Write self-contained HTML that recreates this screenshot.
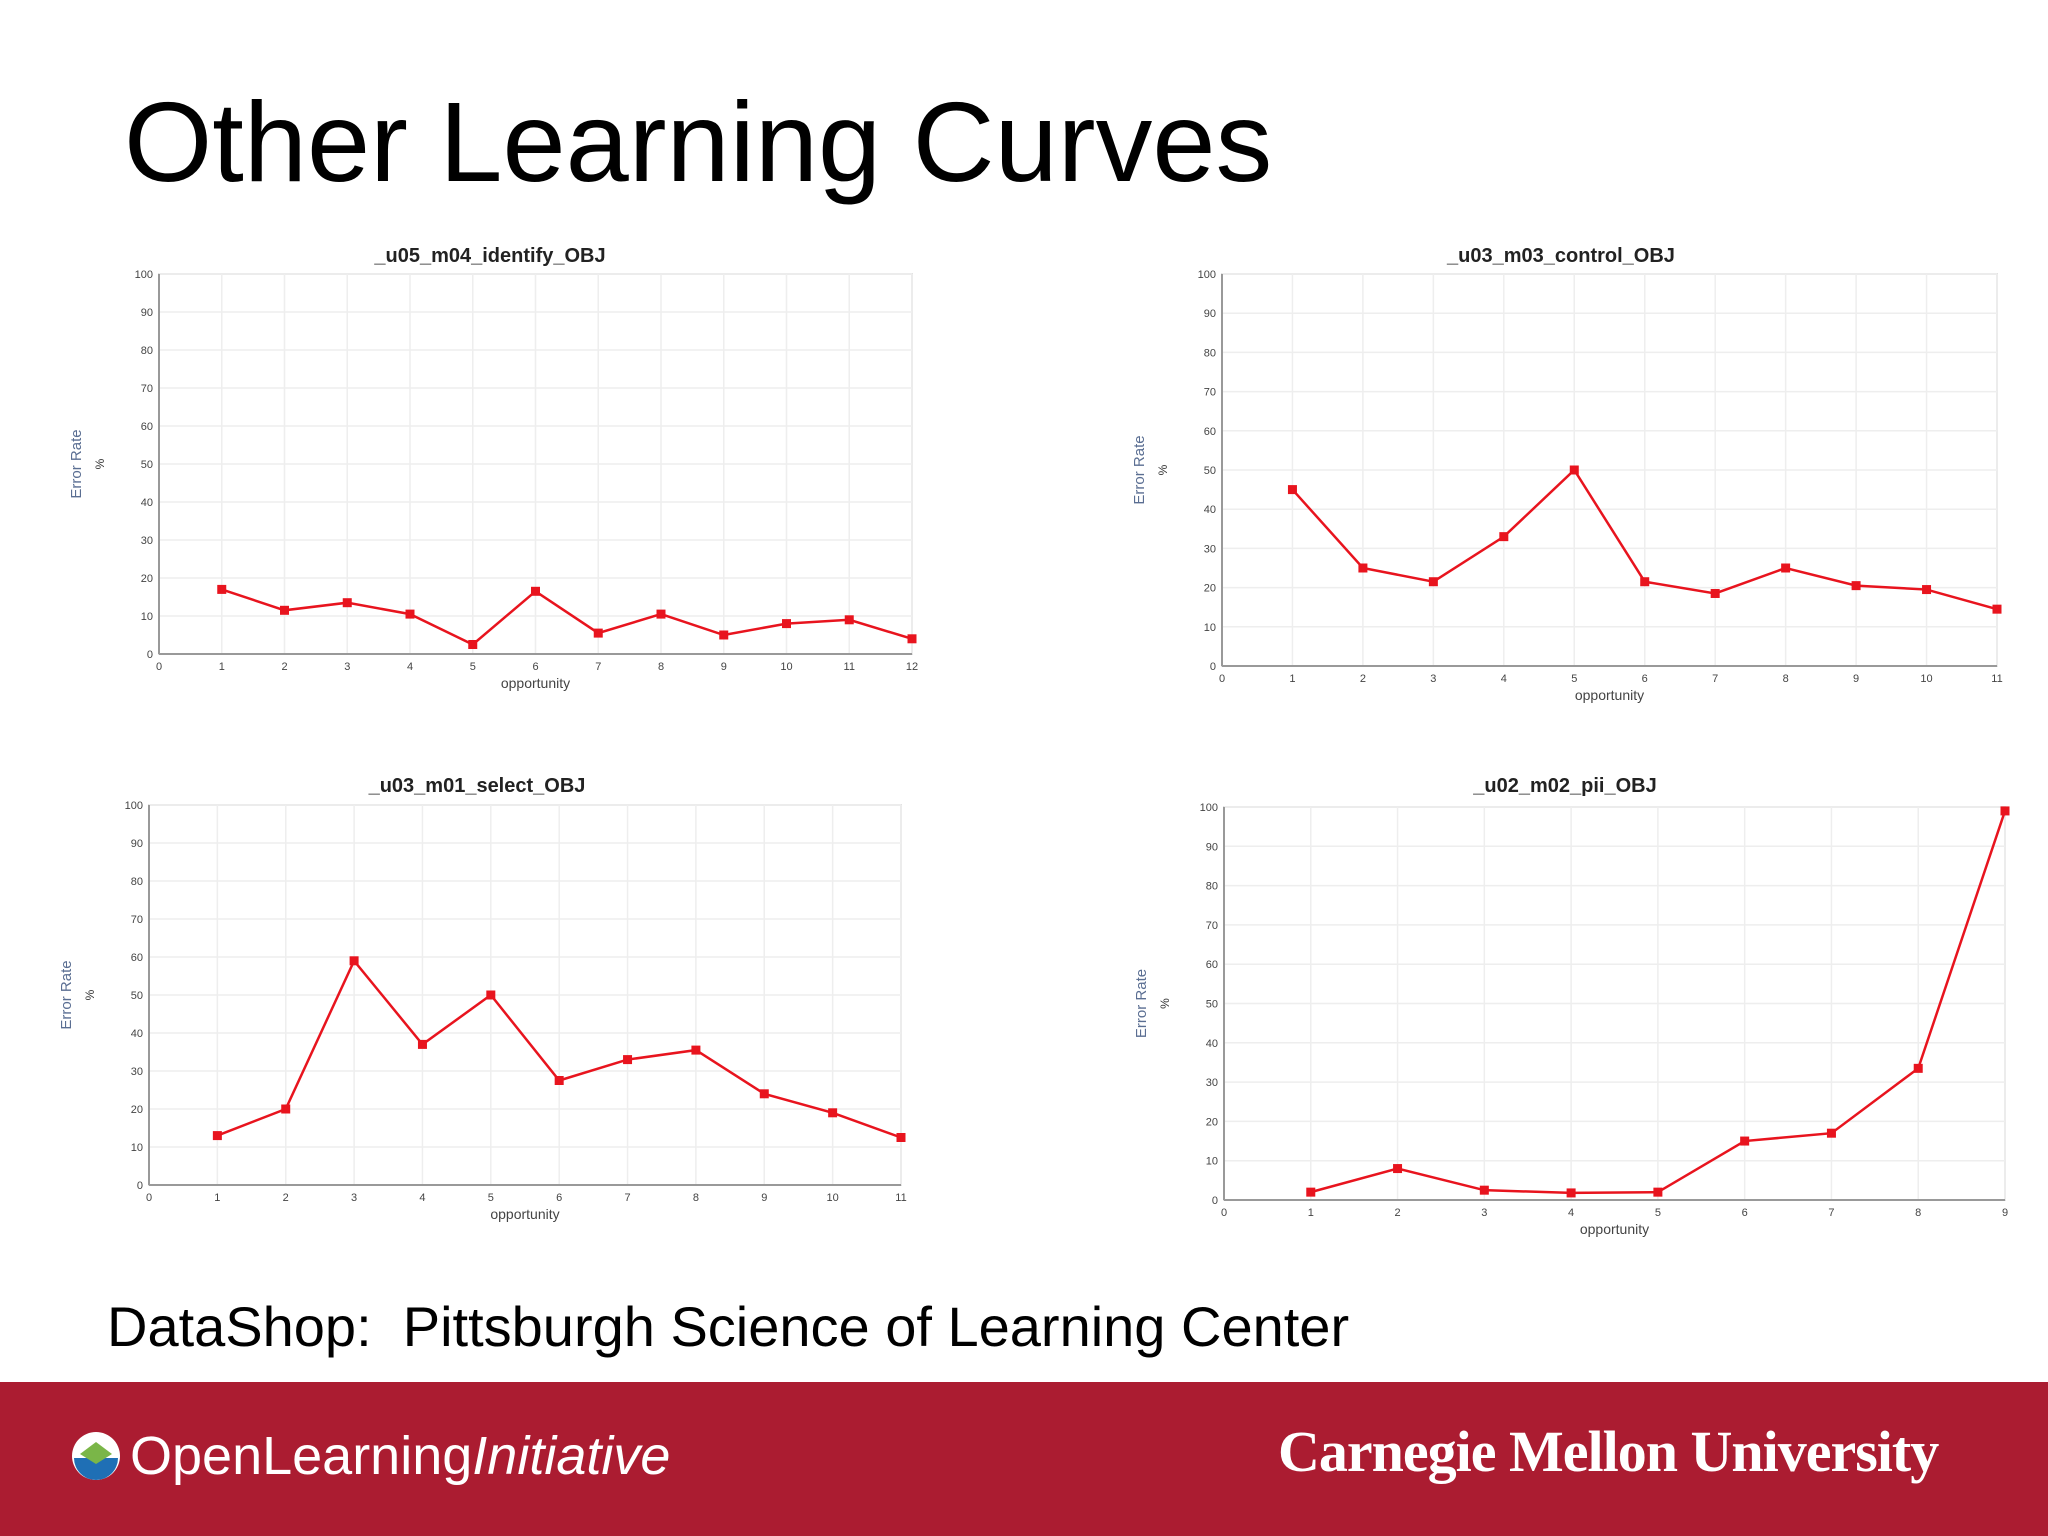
<!DOCTYPE html>
<html><head><meta charset="utf-8"><style>
body{margin:0;width:2048px;height:1536px;background:#fff;overflow:hidden;position:relative;font-family:"Liberation Sans",sans-serif}
#title{position:absolute;left:124px;top:78px;font-size:113.5px;line-height:130px;color:#000}
#src{position:absolute;left:107px;top:1292px;font-size:56px;line-height:70px;color:#000}
#band{position:absolute;left:0;top:1382px;width:2048px;height:154px;background:#ab1c31}
#oli{position:absolute;left:70px;top:1424px;height:64px;display:flex;align-items:center;color:#fff;font-size:54px}
#cmu{position:absolute;left:1278px;top:1418px;color:#fff;font-family:"Liberation Serif",serif;font-weight:bold;font-size:58px;letter-spacing:-1px}
svg{position:absolute;left:0;top:0}
</style></head><body>
<div id="title">Other Learning Curves</div>
<svg id="chart" width="2048" height="1380"></svg>
<div id="src">DataShop:&nbsp; Pittsburgh Science of Learning Center</div>
<div id="band"></div>
<div id="oli">
<svg style="position:static" width="52" height="52" viewBox="0 0 52 52"><circle cx="26" cy="26" r="24" fill="#fff"/><path d="M4 28 A22 22 0 0 0 48 28 Z" fill="#1f6fb5"/><path d="M10 24 L26 12 L42 24 L26 34 Z" fill="#7ab648"/></svg>
<span style="margin-left:8px">OpenLearning<i>Initiative</i></span></div>
<div id="cmu">Carnegie Mellon University</div>
<script>
const titles=["_u05_m04_identify_OBJ","_u03_m03_control_OBJ","_u03_m01_select_OBJ","_u02_m02_pii_OBJ"];
const seriesA=[17,11.5,13.5,10.5,2.5,16.5,5.5,10.5,5,8,9,4];
const seriesB=[45,25,21.5,33,50,21.5,18.5,25,20.5,19.5,14.5];
const seriesC=[13,20,59,37,50,27.5,33,35.5,24,19,12.5];
const seriesD=[2,8,2.5,1.8,2,15,17,33.5,99];
const yTicks=[0,10,20,30,40,50,60,70,80,90,100];
const allSeries=[seriesA,seriesB,seriesC,seriesD];
const boxes=[{x0:159,x1:912,y0:654,y1:274,tx:490,ty:262},{x0:1222,x1:1997,y0:666,y1:274,tx:1561,ty:262},{x0:149,x1:901,y0:1185,y1:805,tx:477,ty:792},{x0:1224,x1:2005,y0:1200,y1:807,tx:1565,ty:792}];
const NS="http://www.w3.org/2000/svg";
const svg=document.getElementById('chart');
function mk(t,a,p){const e=document.createElementNS(NS,t);for(const k in a)e.setAttribute(k,a[k]);(p||svg).appendChild(e);return e;}
allSeries.forEach((data,ci)=>{
  const b=boxes[ci];const n=data.length;
  const g=mk('g',{});
  
  
  const sx=i=>b.x0+(b.x1-b.x0)*i/n;
  const sy=v=>b.y0+(b.y1-b.y0)*v/100;
  mk('rect',{x:b.x0,y:b.y1,width:b.x1-b.x0,height:b.y0-b.y1,fill:'#fff',stroke:'#ccc','stroke-width':1.5},g);
  yTicks.forEach(t=>{
    mk('line',{x1:b.x0,x2:b.x1,y1:sy(t),y2:sy(t),stroke:'#eee','stroke-width':1.5},g);
    const tx=mk('text',{x:b.x0-6,y:sy(t)+4,'font-size':11,'text-anchor':'end',fill:'#444'},g);tx.textContent=t;
  });
  for(let i=0;i<=n;i++){
    mk('line',{x1:sx(i),x2:sx(i),y1:b.y1,y2:b.y0,stroke:'#eee','stroke-width':1.5},g);
    const tx=mk('text',{x:sx(i),y:b.y0+16,'font-size':11,'text-anchor':'middle',fill:'#444'},g);tx.textContent=i;
  }
  mk('line',{x1:b.x0,x2:b.x1,y1:b.y0,y2:b.y0,stroke:'#999','stroke-width':2},g);
  mk('line',{x1:b.x0,x2:b.x0,y1:b.y1,y2:b.y0,stroke:'#999','stroke-width':2},g);
  const tt=mk('text',{x:b.tx,y:b.ty,'font-size':20,'font-weight':'bold','text-anchor':'middle',fill:'#222'},g);tt.textContent=titles[ci];
  
  const my=(b.y0+b.y1)/2;
  const yl=mk('text',{x:0,y:0,'font-size':15,'text-anchor':'middle',fill:'#5a6e92',transform:`translate(${b.x0-78},${my}) rotate(-90)`},g);yl.textContent='Error Rate';
  
  const pc=mk('text',{x:0,y:0,'font-size':12,'text-anchor':'middle',fill:'#333',transform:`translate(${b.x0-55},${my}) rotate(-90)`},g);pc.textContent='%';
  const xl=mk('text',{x:(b.x0+b.x1)/2,y:b.y0+34,'font-size':14,'text-anchor':'middle',fill:'#444'},g);xl.textContent='opportunity';
  
  const pts=data.map((v,i)=>sx(i+1)+','+sy(v)).join(' ');
  const pl=mk('polyline',{points:pts,fill:'none',stroke:'#e8141e','stroke-width':2.5},g);
  
  data.forEach((v,i)=>{
    const r=mk('rect',{x:sx(i+1)-4.5,y:sy(v)-4.5,width:9,height:9,fill:'#e8141e'},g);
    
    
  });
});
</script>
</body></html>
